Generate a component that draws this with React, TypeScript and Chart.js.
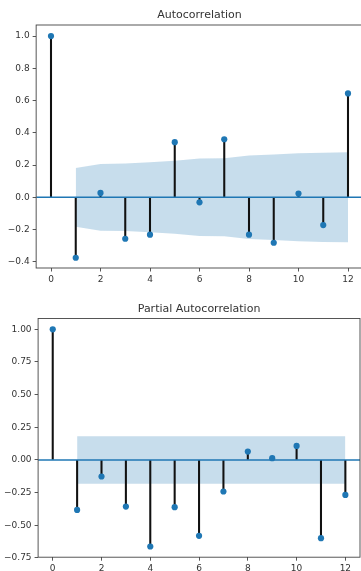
import React, { useEffect, useRef } from "react";
import { Chart, registerables } from "chart.js";

Chart.register(...registerables);

// ---- data ----
const LAGS = [0, 1, 2, 3, 4, 5, 6, 7, 8, 9, 10, 11, 12];
const ACF_VALUES = [1.0, -0.375, 0.027, -0.257, -0.232, 0.342, -0.031, 0.36, -0.232, -0.282, 0.023, -0.172, 0.644];
// confidence half-width for lags 1..12
const ACF_CONF = [0.182, 0.207, 0.209, 0.217, 0.226, 0.24, 0.242, 0.259, 0.265, 0.273, 0.277, 0.279];
const PACF_VALUES = [1.0, -0.383, -0.127, -0.357, -0.663, -0.362, -0.581, -0.242, 0.064, 0.013, 0.107, -0.599, -0.268];
const PACF_CONF = [0.182, 0.182, 0.182, 0.182, 0.182, 0.182, 0.182, 0.182, 0.182, 0.182, 0.182, 0.182];
const X_TICKS = [0, 2, 4, 6, 8, 10, 12];
const ACF_Y_TICKS = [-0.4, -0.2, 0.0, 0.2, 0.4, 0.6, 0.8, 1.0];
const PACF_Y_TICKS = [-0.75, -0.5, -0.25, 0.0, 0.25, 0.5, 0.75, 1.0];
const X_MIN = -0.6;
const X_MAX = 12.6;

const BLUE = "#1f77b4";
const BAND = "rgba(31,119,180,0.25)";
const TEXT = "#333333";
const FONT = "'DejaVu Sans', sans-serif";
const CANVAS_W = 380;

const framePlugin = {
  id: "frame",
  afterDatasetsDraw(chart: any) {
    const { ctx, chartArea: a } = chart;
    ctx.save();
    ctx.strokeStyle = "#444";
    ctx.lineWidth = 0.9;
    ctx.strokeRect(a.left, a.top, a.right - a.left, a.bottom - a.top);
    ctx.restore();
  },
};

type Spec = {
  title: string;
  values: number[];
  conf: number[];
  yTicks: number[];
  decimals: number;
  yMin: number;
  yMax: number;
  yWidth: number;
  rightPad: number;
  titleTop: number;
  titleBottom: number;
  xHeight: number;
};

function fmt(v: number, d: number) {
  const s = Math.abs(v).toFixed(d);
  return v < -1e-9 ? "\u2212" + s : s;
}

function makeConfig(s: Spec): any {
  const bandLags = LAGS.slice(1);
  return {
    type: "scatter",
    data: {
      datasets: [
        {
          type: "line",
          data: bandLags.map((l, i) => ({ x: l, y: s.conf[i] })),
          fill: "+1",
          backgroundColor: BAND,
          borderColor: "transparent",
          borderWidth: 0,
          pointRadius: 0,
          tension: 0,
          order: 4,
        },
        {
          type: "line",
          data: bandLags.map((l, i) => ({ x: l, y: -s.conf[i] })),
          fill: false,
          borderColor: "transparent",
          borderWidth: 0,
          pointRadius: 0,
          tension: 0,
          order: 4,
        },
        {
          type: "bar",
          data: LAGS.map((l, i) => ({ x: l, y: s.values[i] })),
          backgroundColor: "#111111",
          borderWidth: 0,
          barThickness: 1.4,
          order: 3,
        },
        {
          type: "line",
          data: [
            { x: X_MIN, y: 0 },
            { x: X_MAX, y: 0 },
          ],
          borderColor: BLUE,
          borderWidth: 1.5,
          pointRadius: 0,
          fill: false,
          order: 2,
        },
        {
          type: "scatter",
          data: LAGS.map((l, i) => ({ x: l, y: s.values[i] })),
          backgroundColor: BLUE,
          borderWidth: 0,
          pointRadius: 3.1,
          order: 1,
        },
      ],
    },
    options: {
      responsive: false,
      maintainAspectRatio: false,
      animation: false,
      events: [],
      layout: { padding: { left: 0, right: s.rightPad, top: 0, bottom: 0 } },
      plugins: {
        legend: { display: false },
        tooltip: { enabled: false },
        title: {
          display: true,
          text: s.title,
          fullSize: false,
          color: TEXT,
          font: { family: FONT, size: 11, weight: "normal" },
          padding: { top: s.titleTop, bottom: s.titleBottom },
        },
      },
      scales: {
        x: {
          type: "linear",
          min: X_MIN,
          max: X_MAX,
          offset: false,
          afterBuildTicks: (sc: any) => {
            sc.ticks = X_TICKS.map((v) => ({ value: v }));
          },
          afterFit: (sc: any) => {
            sc.height = s.xHeight;
          },
          ticks: {
            color: TEXT,
            font: { family: FONT, size: 9 },
            padding: 2.5,
            maxRotation: 0,
            autoSkip: false,
            callback: (v: number) => String(v),
          },
          grid: {
            display: true,
            drawOnChartArea: false,
            drawTicks: true,
            tickLength: 3.5,
            color: "#444",
            lineWidth: 0.9,
            offset: false,
          },
          border: { display: false },
        },
        y: {
          type: "linear",
          min: s.yMin,
          max: s.yMax,
          afterBuildTicks: (sc: any) => {
            sc.ticks = s.yTicks.map((v) => ({ value: v }));
          },
          afterFit: (sc: any) => {
            sc.width = s.yWidth;
          },
          ticks: {
            color: TEXT,
            font: { family: FONT, size: 9 },
            padding: 3,
            autoSkip: false,
            callback: (v: number) => fmt(v, s.decimals),
          },
          grid: {
            display: true,
            drawOnChartArea: false,
            drawTicks: true,
            tickLength: 3.5,
            color: "#444",
            lineWidth: 0.9,
          },
          border: { display: false },
        },
      },
    },
    plugins: [framePlugin],
  };
}

const ACF_SPEC: Spec = {
  title: "Autocorrelation",
  values: ACF_VALUES,
  conf: ACF_CONF,
  yTicks: ACF_Y_TICKS,
  decimals: 1,
  yMin: -0.4385,
  yMax: 1.0685,
  yWidth: 36.15,
  rightPad: CANVAS_W - 362.85,
  titleTop: 8.4,
  titleBottom: 3.4,
  xHeight: 285 - 268,
};

const PACF_SPEC: Spec = {
  title: "Partial Autocorrelation",
  values: PACF_VALUES,
  conf: PACF_CONF,
  yTicks: PACF_Y_TICKS,
  decimals: 2,
  yMin: -0.745,
  yMax: 1.083,
  yWidth: 38.1,
  rightPad: CANVAS_W - 360,
  titleTop: 17.4,
  titleBottom: 2.9,
  xHeight: 300 - 272.2,
};

function CorrChart({ spec, top, height }: { spec: Spec; top: number; height: number }) {
  const ref = useRef<HTMLCanvasElement | null>(null);
  useEffect(() => {
    if (!ref.current) return;
    const chart = new Chart(ref.current, makeConfig(spec));
    return () => chart.destroy();
  }, [spec]);
  return (
    <canvas
      ref={ref}
      width={CANVAS_W}
      height={height}
      style={{ position: "absolute", left: 0, top, width: CANVAS_W, height }}
    />
  );
}

export default function App() {
  return (
    <div
      style={{
        position: "fixed",
        left: 0,
        top: 0,
        width: 361,
        height: 571,
        overflow: "hidden",
        background: "#ffffff",
      }}
    >
      <CorrChart spec={ACF_SPEC} top={0} height={285} />
      <CorrChart spec={PACF_SPEC} top={285} height={300} />
    </div>
  );
}
